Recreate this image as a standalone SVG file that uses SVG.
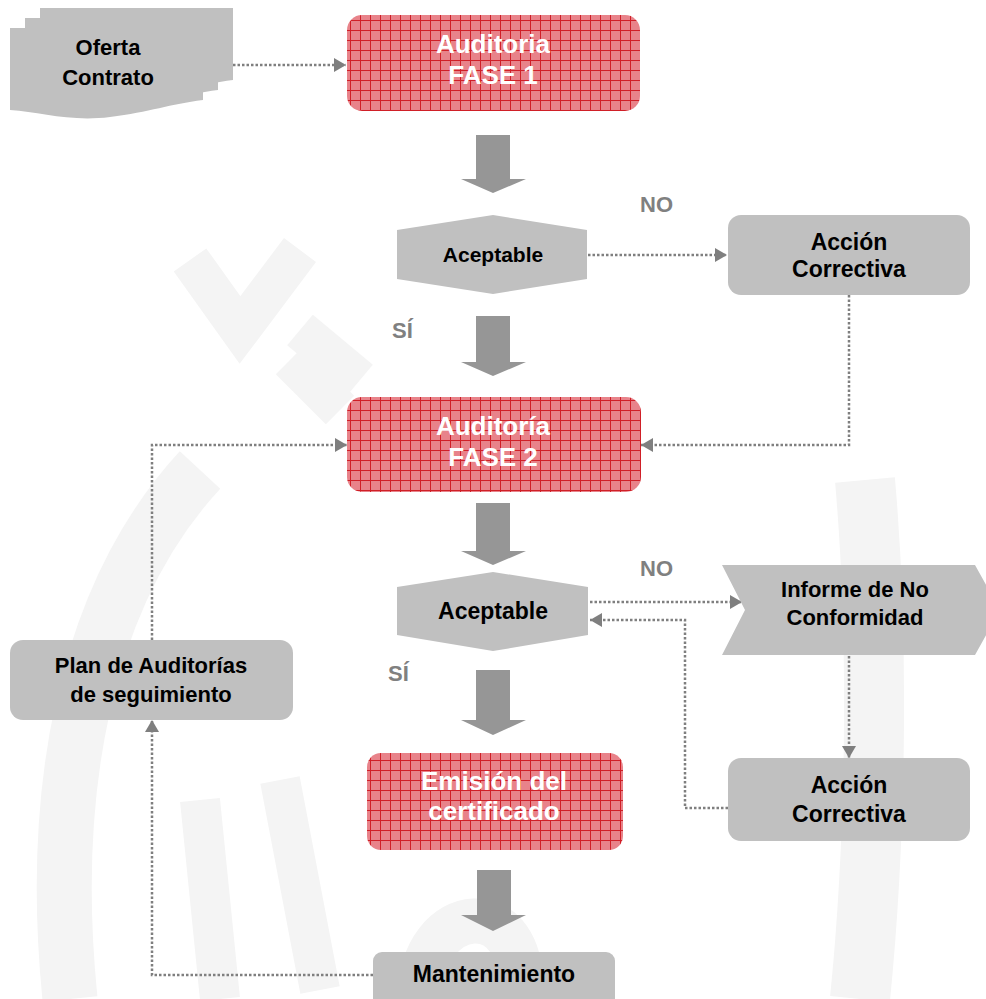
<svg xmlns="http://www.w3.org/2000/svg" width="986" height="999" viewBox="0 0 986 999">
<style>
.t{font-family:"Liberation Sans",Arial,sans-serif;font-weight:bold;text-anchor:middle}
.dk{fill:#000}
.wh{fill:#fff}
.lb{fill:#808080;font-family:"Liberation Sans",Arial,sans-serif;font-weight:bold}
.gn{fill:#c0c0c0}
.rd{fill:url(#grid)}
.ba{fill:#969696}
.cn{fill:none;stroke:#7f7f7f;stroke-width:2.5;stroke-dasharray:2.5 2}
.wm{fill:none;stroke:#f4f4f4}
</style>
<defs>
<pattern id="grid" width="10" height="10" patternUnits="userSpaceOnUse">
<rect width="10" height="10" fill="#e8838a"/>
<path d="M0,0.5H10M0.5,0V10" stroke="#d01f27" stroke-width="1"/>
</pattern>
<marker id="ah" viewBox="0 0 12 14" refX="12" refY="7" markerWidth="12" markerHeight="14" markerUnits="userSpaceOnUse" orient="auto">
<path d="M0,0 L12,7 L0,14 Z" fill="#7f7f7f"/>
</marker>
<path id="doc" d="M0,0 H193 V72 C160,76 140,84 100,89 C60,94 30,84 0,82 Z"/>
</defs>
<rect width="986" height="999" fill="#fff"/>
<g id="watermark">
<path class="wm" stroke-width="55" d="M70,999 C50,800 80,600 200,470"/>
<path class="wm" stroke-width="60" d="M865,480 C880,650 875,850 860,999"/>
<path class="wm" stroke-width="40" d="M190,260 L240,330 L300,250"/>
<path class="wm" stroke-width="40" d="M300,330 L360,380 M290,360 L340,410"/>
<path class="wm" stroke-width="45" d="M420,999 C420,900 530,890 520,999"/>
<path class="wm" stroke-width="40" d="M200,800 L220,999 M280,780 L320,990"/>
</g>
<g id="connectors">
<path class="cn" d="M233,65 H346" marker-end="url(#ah)"/>
<path class="cn" d="M588,255 H727" marker-end="url(#ah)"/>
<path class="cn" d="M849,295 V445 H641" marker-end="url(#ah)"/>
<path class="cn" d="M590,602 H742" marker-end="url(#ah)"/>
<path class="cn" d="M728,808 H685 V620 H590" marker-end="url(#ah)"/>
<path class="cn" d="M849,656 V758" marker-end="url(#ah)"/>
<path class="cn" d="M373,975 H152 V720" marker-end="url(#ah)"/>
<path class="cn" d="M152,640 V445 H347" marker-end="url(#ah)"/>
</g>
<g id="flow-arrows">
<path class="ba" d="M476,135 H510 V179 H526 L493,193 L461,179 H476 Z"/>
<path class="ba" d="M476,316 H510 V362 H526 L493,376 L461,362 H476 Z"/>
<path class="ba" d="M476,503 H510 V551 H526 L493,565 L461,551 H476 Z"/>
<path class="ba" d="M476,670 H510 V720 H526 L493,735 L461,720 H476 Z"/>
<path class="ba" d="M477,870 H511 V915 H526 L493,931 L461,915 H477 Z"/>
</g>
<g id="oferta">
<use href="#doc" x="40" y="8" class="gn"/>
<use href="#doc" x="25" y="18" class="gn"/>
<use href="#doc" x="10" y="28" class="gn"/>
<text class="t dk" x="108" y="55" font-size="22">Oferta</text>
<text class="t dk" x="108" y="85" font-size="22">Contrato</text>
</g>
<g id="fase1">
<rect class="rd" x="347" y="15" width="293" height="96" rx="15"/>
<text class="t wh" x="493" y="53" font-size="26">Auditoria</text>
<text class="t wh" x="493" y="84" font-size="26">FASE 1</text>
</g>
<g id="aceptable1">
<path class="gn" d="M397,230 L493,215 L587,230 V279 L493,294 L397,279 Z"/>
<text class="t dk" x="493" y="262" font-size="21">Aceptable</text>
</g>
<text class="lb" x="640" y="212" font-size="22">NO</text>
<g id="accion1">
<rect class="gn" x="728" y="215" width="242" height="80" rx="13"/>
<text class="t dk" x="849" y="250" font-size="23">Acción</text>
<text class="t dk" x="849" y="277" font-size="23">Correctiva</text>
</g>
<text class="lb" x="392" y="338" font-size="22">SÍ</text>
<g id="fase2">
<rect class="rd" x="347" y="397" width="294" height="95" rx="15"/>
<text class="t wh" x="493" y="435" font-size="26">Auditoría</text>
<text class="t wh" x="493" y="466" font-size="26">FASE 2</text>
</g>
<text class="lb" x="640" y="576" font-size="22">NO</text>
<g id="aceptable2">
<path class="gn" d="M397,587 L493,572 L588,587 V635 L493,651 L397,635 Z"/>
<text class="t dk" x="493" y="619" font-size="23">Aceptable</text>
</g>
<g id="informe">
<path class="gn" d="M722,565 H975 L1000,610 L975,655 H722 L745,610 Z"/>
<text class="t dk" x="855" y="597" font-size="22">Informe de No</text>
<text class="t dk" x="855" y="625" font-size="22">Conformidad</text>
</g>
<text class="lb" x="388" y="681" font-size="22">SÍ</text>
<g id="plan">
<rect class="gn" x="10" y="640" width="283" height="80" rx="13"/>
<text class="t dk" x="151" y="673" font-size="22">Plan de Auditorías</text>
<text class="t dk" x="151" y="702" font-size="22">de seguimiento</text>
</g>
<g id="accion2">
<rect class="gn" x="728" y="758" width="242" height="83" rx="13"/>
<text class="t dk" x="849" y="793" font-size="23">Acción</text>
<text class="t dk" x="849" y="822" font-size="23">Correctiva</text>
</g>
<g id="emision">
<rect class="rd" x="367" y="753" width="256" height="97" rx="14"/>
<text class="t wh" x="494" y="790" font-size="26">Emisión del</text>
<text class="t wh" x="494" y="820" font-size="26">certificado</text>
</g>
<g id="mantenimiento">
<rect class="gn" x="373" y="952" width="242" height="60" rx="9"/>
<text class="t dk" x="494" y="982" font-size="23">Mantenimiento</text>
</g>
</svg>
